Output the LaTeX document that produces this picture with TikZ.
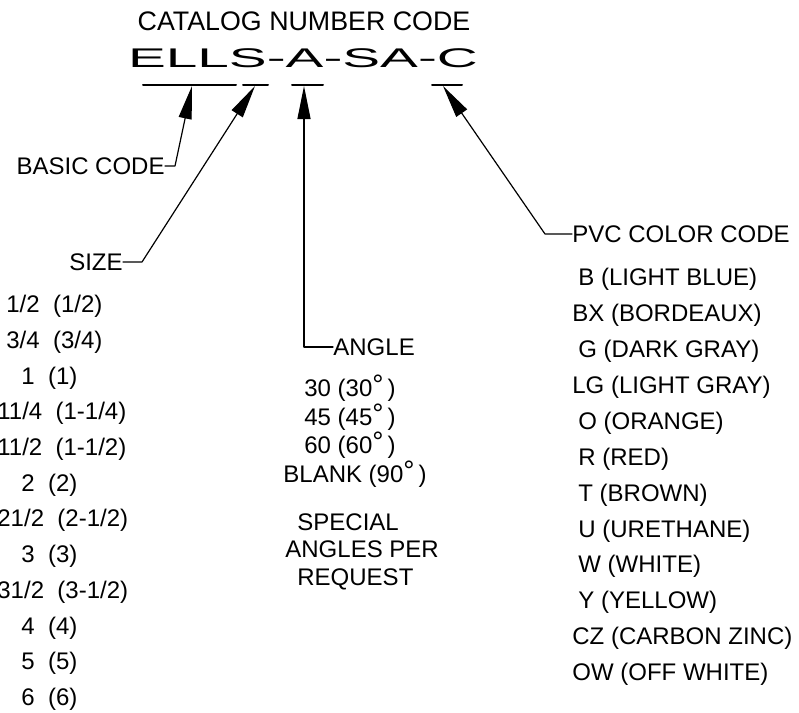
\documentclass[tikz,border=0pt]{standalone}
\usepackage{fontspec}
\setmainfont{Liberation Sans}
\usepackage{graphicx}
\usetikzlibrary{arrows.meta}
\newcommand{\dg}{\raisebox{1pt}{\fontsize{14}{14}\selectfont °}}
\newcommand{\ind}[1]{\hspace*{#1pt}}
\tikzstyle{every node}=[font=\fontsize{12}{14}\selectfont,inner sep=0pt]
\tikzstyle{leader}=[->,line width=0.6pt]
\tikzstyle{bar}=[line width=1pt]

\begin{document}
\begin{tikzpicture}[line cap=round,line join=round,>={Triangle[length=16.5pt,width=6.5pt]},x=0.5pt,y=-0.5pt]
            \useasboundingbox (0,0) rectangle (799,713);
            \node (title) at (304,21) {\fontsize{13.4}{16}\selectfont CATALOG NUMBER CODE};
            \node (code) at (303,58) {\fontsize{13.5}{16}\selectfont\scalebox{2.1}[1]{ELLS-A-SA-C}};
            \draw [bar] (143,85) -- (236,85);
            \draw [bar] (243,85) -- (268,85);
            \draw [bar] (292,85) -- (323,85);
            \draw [bar] (432,85) -- (462,85);
            \coordinate (tipbasic) at (192,86);
            \coordinate (tipsize) at (255,86);
            \coordinate (tipangle) at (304,86);
            \coordinate (tippvc) at (443,86);
            \node [anchor=east] (basic) at (165,166) {BASIC CODE};
            \node [anchor=east] (size) at (123,262) {SIZE};
            \node [anchor=west] (angle) at (333,347) {ANGLE};
            \node [anchor=west] (pvc) at (572,234) {PVC COLOR CODE};
            \draw [leader] (basic.east) -- ++(10,0) -- (tipbasic);
            \draw [leader] (size.east) -- ++(19,0) -- (tipsize);
            \draw [leader] (angle.west) -| (tipangle);
            \draw [leader] (pvc.west) -- ++(-27,0) -- (tippvc);
            \node [anchor=north west,align=left,font=\fontsize{12}{17.85}\selectfont] (sizes) at (-3,295) {\ind{4.5}1/2\ \ (1/2)\\ \ind{4.5}3/4\ \ (3/4)\\ \ind{12}1\ \ (1)\\ 11/4\ \ (1-1/4)\\ 11/2\ \ (1-1/2)\\ \ind{12}2\ \ (2)\\ 21/2\ \ (2-1/2)\\ \ind{12}3\ \ (3)\\ 31/2\ \ (3-1/2)\\ \ind{12}4\ \ (4)\\ \ind{12}5\ \ (5)\\ \ind{12}6\ \ (6)};
            \node [anchor=north west,align=left,font=\fontsize{12}{13.15}\selectfont] (angles) at (283,375) {\ind{10.5}30 (30\dg\,)\\ \ind{10.5}45 (45\dg\,)\\ \ind{10.5}60 (60\dg\,)\\ BLANK (90\dg\,)};
            \node [anchor=north west,align=left,font=\fontsize{12}{13.75}\selectfont] (special) at (285,513) {\ind{6}SPECIAL\\ ANGLES PER\\ \ind{6}REQUEST};
            \node [anchor=north west,align=left,font=\fontsize{12}{17.95}\selectfont] (colors) at (572,268) {\ind{3}B (LIGHT BLUE)\\ BX (BORDEAUX)\\ \ind{3}G (DARK GRAY)\\ LG (LIGHT GRAY)\\ \ind{3}O (ORANGE)\\ \ind{3}R (RED)\\ \ind{3}T (BROWN)\\ \ind{3}U (URETHANE)\\ \ind{3}W (WHITE)\\ \ind{3}Y (YELLOW)\\ CZ (CARBON ZINC)\\ OW (OFF WHITE)};
            \end{tikzpicture}
\end{document}
